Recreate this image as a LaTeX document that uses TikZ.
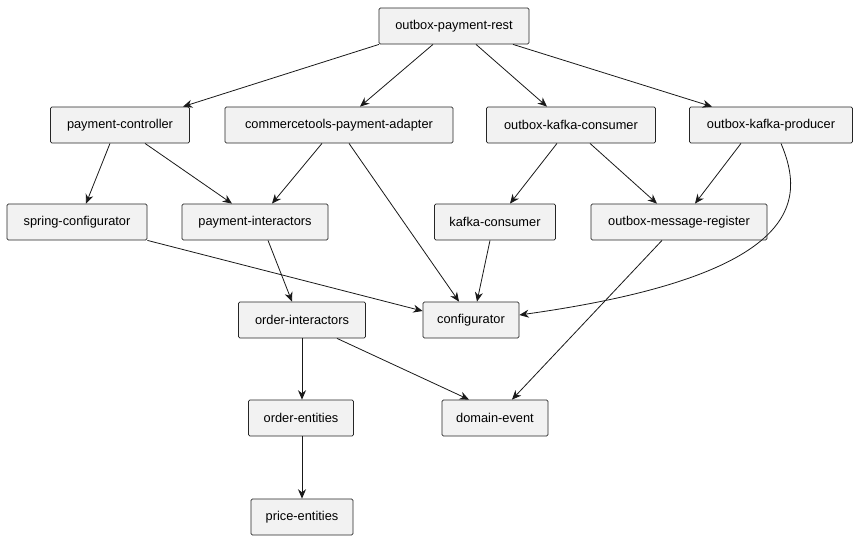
\documentclass[tikz,border=0pt]{standalone}
\usepackage{fontspec}
\setmainfont{Liberation Sans}
\usetikzlibrary{arrows.meta}
\begin{document}
\begin{tikzpicture}[x=0.75pt,y=-0.75pt,
  box/.style={draw=black!85,fill=black!5,rounded corners=1pt,line width=0.6pt,minimum height=27pt,inner xsep=0pt,font=\fontsize{9.6pt}{11pt}\selectfont},
  ar/.style={-{Stealth[length=7pt,width=6pt]},line width=0.6pt,black!90}]
\useasboundingbox (0,0) rectangle (858,539);
\node[box,minimum width=112.5pt] (rest) at (454,26) {outbox-payment-rest};
\node[box,minimum width=104.25pt] (pc) at (120,125) {payment-controller};
\node[box,minimum width=171pt] (cta) at (339,125) {commercetools-payment-adapter};
\node[box,minimum width=126.75pt] (okc) at (571,125) {outbox-kafka-consumer};
\node[box,minimum width=122.25pt] (okp) at (771,125) {outbox-kafka-producer};
\node[box,minimum width=105pt] (sc) at (77,222) {spring-configurator};
\node[box,minimum width=109.5pt] (pi) at (255,222) {payment-interactors};
\node[box,minimum width=90.75pt] (kc) at (495,222) {kafka-consumer};
\node[box,minimum width=132pt] (omr) at (679,222) {outbox-message-register};
\node[box,minimum width=95.25pt] (oi) at (302,320) {order-interactors};
\node[box,minimum width=72pt] (cfg) at (471,320) {configurator};
\node[box,minimum width=78.75pt] (oe) at (301,418) {order-entities};
\node[box,minimum width=79.5pt] (de) at (495,418) {domain-event};
\node[box,minimum width=76.5pt] (pe) at (302,517) {price-entities};

\draw[ar] ([xshift=-56.25pt]rest.south) -- ([xshift=47.25pt]pc.north);
\draw[ar] ([xshift=-15.75pt]rest.south) -- ([xshift=15.75pt]cta.north);
\draw[ar] ([xshift=16.5pt]rest.south) -- ([xshift=-18pt]okc.north);
\draw[ar] ([xshift=44.25pt]rest.south) -- ([xshift=-44.25pt]okp.north);
\draw[ar] ([xshift=-7.5pt]pc.south) -- ([xshift=6.75pt]sc.north);
\draw[ar] ([xshift=18.75pt]pc.south) -- ([xshift=-17.25pt]pi.north);
\draw[ar] ([xshift=-12.75pt]cta.south) -- ([xshift=12.75pt]pi.north);
\draw[ar] ([xshift=7.5pt]cta.south) -- ([xshift=-9pt]cfg.north);
\draw[ar] ([xshift=-10.5pt]okc.south) -- ([xshift=11.25pt]kc.north);
\draw[ar] ([xshift=14.25pt]okc.south) -- ([xshift=-16.5pt]omr.north);
\draw[ar] ([xshift=-22.5pt]okp.south) -- ([xshift=12pt]omr.north);
\draw[ar] ([xshift=7.5pt]okp.south) .. controls (805,200) and (805,275) .. ([yshift=3.75pt]cfg.east);
\draw[ar] (sc.south east) -- ([yshift=6.75pt]cfg.west);
\draw[ar] ([xshift=9.75pt]pi.south) -- ([xshift=-7.5pt]oi.north);
\draw[ar] ([xshift=-3.75pt]kc.south) -- ([xshift=4.5pt]cfg.north);
\draw[ar] ([xshift=-12.75pt]omr.south) -- ([xshift=12.75pt]de.north);
\draw[ar] (oi.south) -- (oi.south |- oe.north);
\draw[ar] ([xshift=26.25pt]oi.south) -- ([xshift=-19.5pt]de.north);
\draw[ar] (oe.south -| pe.north) -- (pe.north);
\end{tikzpicture}
\end{document}
